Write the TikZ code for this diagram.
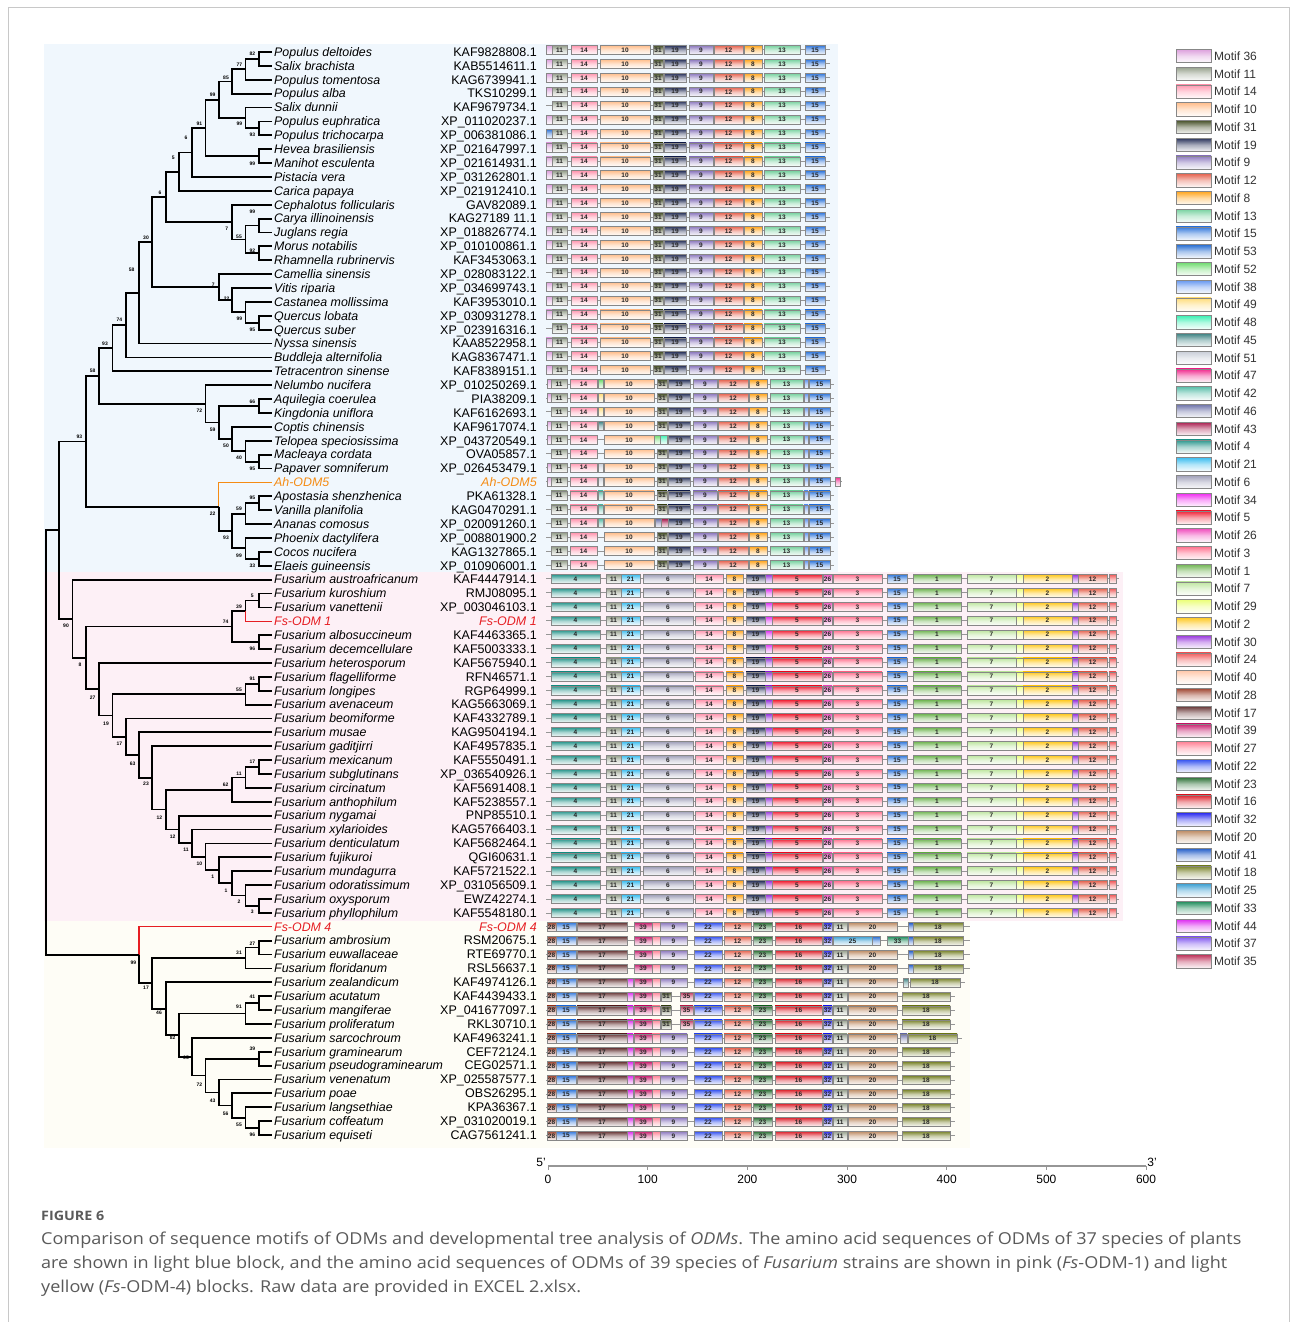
\documentclass[tikz,border=0pt]{standalone}
\usepackage{fontspec}
\setmainfont{Liberation Sans}
\newfontfamily\capfont[FakeStretch=1.1]{Open Sans}
\usetikzlibrary{calc}
\definecolor{blueblk}{RGB}{240,247,253}
\definecolor{pinkblk}{RGB}{253,240,246}
\definecolor{yelblk}{RGB}{254,253,246}
\definecolor{ahor}{RGB}{245,140,20}
\definecolor{fsred}{RGB}{230,30,35}
\definecolor{rowgray}{RGB}{150,150,150}
\definecolor{boxgray}{RGB}{135,135,135}
\definecolor{framegray}{RGB}{200,200,200}
\definecolor{capgray}{RGB}{90,90,90}
\definecolor{m36}{RGB}{221,160,221}
\definecolor{m11}{RGB}{150,160,140}
\definecolor{m14}{RGB}{255,150,175}
\definecolor{m10}{RGB}{255,190,140}
\definecolor{m31}{RGB}{70,80,40}
\definecolor{m19}{RGB}{40,50,90}
\definecolor{m9}{RGB}{140,120,190}
\definecolor{m12}{RGB}{230,100,80}
\definecolor{m8}{RGB}{255,165,30}
\definecolor{m13}{RGB}{120,210,160}
\definecolor{m15}{RGB}{50,120,220}
\definecolor{m53}{RGB}{40,110,210}
\definecolor{m52}{RGB}{110,220,110}
\definecolor{m38}{RGB}{100,150,240}
\definecolor{m49}{RGB}{255,220,120}
\definecolor{m48}{RGB}{60,240,180}
\definecolor{m45}{RGB}{60,130,130}
\definecolor{m51}{RGB}{200,205,215}
\definecolor{m47}{RGB}{240,40,140}
\definecolor{m42}{RGB}{90,190,170}
\definecolor{m46}{RGB}{110,115,170}
\definecolor{m43}{RGB}{170,30,80}
\definecolor{m4}{RGB}{40,150,140}
\definecolor{m21}{RGB}{60,190,240}
\definecolor{m6}{RGB}{160,160,185}
\definecolor{m34}{RGB}{240,40,240}
\definecolor{m5}{RGB}{240,30,50}
\definecolor{m26}{RGB}{240,80,190}
\definecolor{m3}{RGB}{255,110,140}
\definecolor{m1}{RGB}{110,180,80}
\definecolor{m7}{RGB}{190,230,160}
\definecolor{m29}{RGB}{235,255,120}
\definecolor{m2}{RGB}{255,200,30}
\definecolor{m30}{RGB}{150,50,220}
\definecolor{m24}{RGB}{240,90,90}
\definecolor{m40}{RGB}{255,200,170}
\definecolor{m28}{RGB}{160,70,50}
\definecolor{m17}{RGB}{100,50,50}
\definecolor{m39}{RGB}{200,30,110}
\definecolor{m27}{RGB}{255,130,150}
\definecolor{m22}{RGB}{50,80,240}
\definecolor{m23}{RGB}{40,110,50}
\definecolor{m16}{RGB}{220,30,40}
\definecolor{m32}{RGB}{40,40,240}
\definecolor{m20}{RGB}{190,140,100}
\definecolor{m41}{RGB}{30,90,200}
\definecolor{m18}{RGB}{120,130,40}
\definecolor{m25}{RGB}{60,160,210}
\definecolor{m33}{RGB}{30,140,90}
\definecolor{m44}{RGB}{220,40,240}
\definecolor{m37}{RGB}{130,90,240}
\definecolor{m35}{RGB}{190,50,90}
% tree node macro: name, height, child1, child2, style1, style2
\newcommand\TNc[6]{%
  \coordinate (tmpm) at ($(#3)!0.5!(#4)$);
  \coordinate (tmpx) at ({272-13.3*#2},0);
  \coordinate (#1) at (tmpx |- tmpm);
  \draw[#5] (#3) -| (#1);
  \draw[#6] (#1) |- (#4);
}
\newcommand\TN[4]{\TNc{#1}{#2}{#3}{#4}{tree}{tree}}
% motif boxes
\newcommand\mb[3]{%
  \path[mbox,top color=m#3,bottom color=m#3!5,middle color=m#3!40] (#1,\ry-4.5) rectangle (#2,\ry+4.5);
  \node[mlab] at ({(#1+#2)/2},\ry) {#3};}
\newcommand\ms[3]{%
  \path[mbox,top color=m#3,bottom color=m#3!5,middle color=m#3!40] (#1,\ry-4.5) rectangle (#2,\ry+4.5);}
\newcommand\setry[1]{\pgfmathsetmacro\ry{50+(#1-1)*13.92}}
% plant rows 1-24
\newcommand\prowA[2]{%
  \setry{#1}%
  \draw[rl] (546,\ry) -- (830,\ry);
  \ifnum#2>0 \ms{546}{552}{#2}\fi
  \mb{552}{567}{11}\mb{571}{597}{14}\mb{600}{650}{10}\mb{653}{663}{31}\mb{664}{686}{19}%
  \mb{689}{713}{9}\mb{714}{743}{12}\mb{744}{762}{8}\mb{764}{800}{13}\mb{805}{825}{15}}
% plant rows 25-38
\newcommand\prowB[5]{%
  \setry{#1}%
  \ifnum#5=1 \def\rend{842}\else\def\rend{834}\fi
  \draw[rl] (546,\ry) -- (\rend,\ry);
  \ifnum#2>0 \ms{547}{551}{#2}\fi
  \mb{551}{567}{11}\mb{570}{597}{14}%
  \ifnum#3>0 \ms{598}{603}{#3}\fi
  \mb{604}{654}{10}%
  \ifcase#4 \mb{657}{667}{31}\or \ms{654}{660}{52}\ms{660}{667}{48}\or \ms{655}{661}{46}\ms{661}{668}{43}\fi
  \mb{668}{690}{19}\mb{693}{717}{9}\mb{718}{748}{12}\mb{749}{767}{8}\mb{770}{803}{13}%
  \ms{804}{808}{38}\mb{809}{830}{15}%
  \ifnum#5=1 \ms{835}{840}{47}\fi}
% Fs-ODM1 rows
\newcommand\frowA[2]{%
  \setry{#1}%
  \draw[rl] (546,\ry) -- (1119,\ry);
  \mb{551}{600}{4}\mb{606}{621}{11}\mb{621}{640}{21}\mb{643}{693}{6}\mb{695}{723}{14}%
  \mb{726}{743}{8}\mb{746}{765}{19}\ms{765}{772}{#2}\mb{772}{822}{5}\mb{823}{832}{26}%
  \mb{833}{882}{3}\mb{887}{907}{15}\mb{913}{961}{1}\mb{967}{1016}{7}\ms{1016}{1023}{29}%
  \mb{1023}{1072}{2}\ms{1072}{1078}{30}\mb{1078}{1107}{12}\ms{1109}{1116}{24}}
% Fs-ODM4 rows
\newcommand\frowB[4]{%
  \setry{#1}%
  \ifcase#4 \def\rend{970}\or\def\rend{970}\or\def\rend{965}\or\def\rend{955}\or\def\rend{962}\fi
  \draw[rl] (546,\ry) -- (\rend,\ry);
  \mb{547}{556}{28}\mb{556}{576}{15}\mb{577}{627}{17}%
  \ifnum#2=1 \ms{627}{633}{44}\fi
  \mb{634}{652}{39}\ms{652}{660}{27}%
  \ifcase#3 \mb{660}{687}{9}\or \mb{661}{671}{31}\mb{680}{693}{35}\fi
  \mb{694}{722}{22}\mb{724}{751}{12}\mb{753}{772}{23}\mb{775}{822}{16}\mb{823}{832}{32}%
  \ifnum#4=1 \mb{833}{872}{25}\ms{872}{880}{53}\mb{887}{908}{33}\else \mb{833}{847}{11}\mb{848}{897}{20}\fi
  \ifcase#4 \ms{908}{913}{41}\mb{913}{963}{18}\or \ms{908}{913}{41}\mb{913}{963}{18}\or
    \ms{903}{908}{45}\mb{910}{960}{18}\or \mb{902}{950}{18}\or \ms{900}{907}{46}\mb{908}{957}{18}\fi}
\begin{document}
\begin{tikzpicture}[x=1pt,y=-1pt,
  tree/.style={line width=1.8pt,line join=miter},
  ahb/.style={line width=1.3pt,draw=ahor},
  fsb/.style={line width=1.3pt,draw=fsred},
  bs/.style={font=\fontsize{5}{5}\selectfont\bfseries,inner sep=0pt},
  sp/.style={font=\fontsize{12.4}{13}\selectfont\itshape,anchor=base west,inner sep=0pt},
  acc/.style={font=\fontsize{12.5}{13}\selectfont,anchor=base east,inner sep=0pt},
  rl/.style={draw=rowgray,line width=1pt},
  mbox/.style={draw=boxgray,line width=0.6pt},
  mlab/.style={font=\fontsize{6.5}{6.5}\selectfont\bfseries,inner sep=0pt,text=black!85},
  lt/.style={font=\fontsize{12}{13}\selectfont,anchor=west,inner sep=0pt,text=black!80},
  captext/.style={font=\capfont\fontsize{16.4}{18}\selectfont,anchor=base west,inner sep=0pt,text=capgray},
]
\useasboundingbox (0,0) rectangle (1293,1322);
\fill[white] (0,0) rectangle (1293,1322);
\draw[framegray,line width=1pt] (8,8) rectangle (1289,1340);
% background blocks
\fill[blueblk] (44,44) rectangle (838,572);
\fill[pinkblk] (44,572) rectangle (1123,921);
\fill[yelblk] (44,921) rectangle (970,1148);
% leaf coordinates
\foreach \i in {1,...,79} {\coordinate (L\i) at (272,{52+(\i-1)*13.885});}
% tree
\TN{A1}{1}{L1}{L2}
\TN{A2}{2}{A1}{L3}
\TN{A3}{3}{A2}{L4}
\TN{A4}{1}{L6}{L7}
\TN{A5}{2}{L5}{A4}
\TN{A6}{4}{A3}{A5}
\TN{A7}{1}{L8}{L9}
\TN{A8}{5}{A6}{A7}
\TN{A9}{6}{A8}{L10}
\TN{A10}{7}{A9}{L11}
\TN{B1}{1}{L13}{L14}
\TN{B2}{1}{L15}{L16}
\TN{B3}{2}{B1}{B2}
\TN{B4}{3}{L12}{B3}
\TN{A11}{8}{A10}{B4}
\TN{C1}{1}{L20}{L21}
\TN{C2}{2}{L19}{C1}
\TN{C3}{3}{L18}{C2}
\TN{C4}{4}{L17}{C3}
\TN{A12}{9}{A11}{C4}
\TN{A13}{10}{A12}{L22}
\TN{A14}{11}{A13}{L23}
\TN{A15}{12}{A14}{L24}
\TN{D1}{1}{L30}{L31}
\TN{D2}{2}{L29}{D1}
\TN{D3}{3}{L28}{D2}
\TN{D4}{1}{L26}{L27}
\TN{D5}{4}{D4}{D3}
\TN{D6}{5}{L25}{D5}
\TN{A16}{13}{A15}{D6}
\TN{E1}{1}{L33}{L34}
\TN{E2}{2}{E1}{L35}
\TN{E3}{1}{L37}{L38}
\TN{E4}{2}{L36}{E3}
\TN{E5}{3}{E2}{E4}
\TNc{E6}{4}{L32}{E5}{ahb}{tree}
\TN{A17}{14}{A16}{E6}
\TN{F1}{1}{L40}{L41}
\TNc{F2}{2}{F1}{L42}{tree}{fsb}
\TN{F3}{1}{L43}{L44}
\TN{F4}{3}{F2}{F3}
\TN{G1}{1}{L46}{L47}
\TN{G2}{2}{G1}{L48}
\TN{H1}{1}{L52}{L53}
\TN{H2}{2}{H1}{L54}
\TN{H3}{3}{H2}{L55}
\TN{I1}{1}{L62}{L63}
\TN{I2}{2}{L61}{I1}
\TN{I3}{3}{L60}{I2}
\TN{I4}{4}{L59}{I3}
\TN{I5}{5}{L58}{I4}
\TN{I6}{6}{L57}{I5}
\TN{I7}{7}{L56}{I6}
\TN{I8}{8}{H3}{I7}
\TN{I9}{9}{L51}{I8}
\TN{I10}{10}{L50}{I9}
\TN{I11}{11}{L49}{I10}
\TN{I12}{12}{G2}{I11}
\TN{I13}{13}{L45}{I12}
\TN{I14}{14}{F4}{I13}
\TN{I15}{15}{L39}{I14}
\TN{A18}{16}{A17}{I15}
\TN{J1}{1}{L65}{L66}
\TN{J2}{2}{J1}{L67}
\TN{K1}{1}{L69}{L70}
\TN{K2}{2}{K1}{L71}
\TN{N1}{1}{L73}{L74}
\TN{M1}{1}{L78}{L79}
\TN{M2}{2}{L77}{M1}
\TN{M3}{3}{L76}{M2}
\TN{M4}{4}{L75}{M3}
\TN{M5}{5}{N1}{M4}
\TN{M6}{6}{L72}{M5}
\TN{M7}{7}{K2}{M6}
\TN{M8}{8}{L68}{M7}
\TN{M9}{9}{J2}{M8}
\TNc{M10}{10}{L64}{M9}{fsb}{tree}
\TN{R}{17}{A18}{M10}
% bootstrap labels
\foreach \n/\x/\y/\t in {A1/252.3/53.3/82,A2/239.3/64.3/77,A3/226/77.3/85,A6/212.7/94.3/99,
  A5/239.3/124/99,A4/252.3/135/93,A8/199.3/124/91,A7/252.3/163.3/99,A9/186/137.7/6,A10/173.3/158.3/5,
  A11/160/192.3/6,B4/226.7/228.3/7,B1/252.3/211.7/99,B3/239/236.7/55,B2/252.3/251/92,A12/146/237.7/30,
  A13/131.7/269.3/58,C4/213.3/285/7,C3/226.7/299/22,C2/239.3/318.3/99,C1/252.3/329.3/95,A14/119.3/320/74,
  A15/105/343.3/93,A16/92.7/371/58,D6/199.3/411/72,D4/252.3/401.7/66,D5/212.7/429.3/59,D3/226/446/50,
  D2/239/457.3/40,D1/252.3/468.3/95,A17/79.3/436.7/93,E6/212.7/514/22,E1/252.3/497.7/95,E2/239/509/59,
  E5/226/537.7/93,E4/239/555.7/99,E3/252.3/565.7/33,F1/252.3/595.7/5,F2/239/606.7/39,F4/225.7/621.7/74,
  F3/252.3/649/96,I15/66/626/90,I14/80/664.3/8,I13/92.7/697.7/27,G1/252.3/679/91,G2/239/690/55,
  I12/106/723.3/19,I11/119.3/743.3/17,I10/132.7/763.3/63,H1/252.3/761.7/17,H2/239/773.3/11,H3/225.7/785/62,
  I9/146/784/23,I8/159.3/817.3/12,I7/172.7/836.7/12,I6/186/850/11,I5/199.3/864/10,I4/212.7/876.7/1,
  I3/226/890.7/1,I2/239/901.7/2,I1/252.3/911.7/3,J1/252.3/943.3/27,J2/239/952.8/31,M10/133.3/962.3/99,
  M9/146/987.7/17,M8/159/1012.4/46,K1/252.3/996.6/41,K2/239/1006.7/91,M7/172.7/1037.8/82,M6/186/1058.1/65,
  N1/252.3/1048.6/39,M5/199.3/1084.4/72,M4/212.7/1101.2/43,M3/225.7/1113.6/56,M2/239/1125/55,M1/252.3/1135/96}
  {\node[bs] (bs\n) at (\x,\y) {\t};}
% species and accessions
\foreach \i/\s/\a in {1/Populus deltoides/KAF9828808.1,2/Salix brachista/KAB5514611.1,3/Populus tomentosa/KAG6739941.1,
 4/Populus alba/TKS10299.1,5/Salix dunnii/KAF9679734.1,6/Populus euphratica/XP\_011020237.1,
 7/Populus trichocarpa/XP\_006381086.1,8/Hevea brasiliensis/XP\_021647997.1,9/Manihot esculenta/XP\_021614931.1,
 10/Pistacia vera/XP\_031262801.1,11/Carica papaya/XP\_021912410.1,12/Cephalotus follicularis/GAV82089.1,
 13/Carya illinoinensis/KAG27189 11.1,14/Juglans regia/XP\_018826774.1,15/Morus notabilis/XP\_010100861.1,
 16/Rhamnella rubrinervis/KAF3453063.1,17/Camellia sinensis/XP\_028083122.1,18/Vitis riparia/XP\_034699743.1,
 19/Castanea mollissima/KAF3953010.1,20/Quercus lobata/XP\_030931278.1,21/Quercus suber/XP\_023916316.1,
 22/Nyssa sinensis/KAA8522958.1,23/Buddleja alternifolia/KAG8367471.1,24/Tetracentron sinense/KAF8389151.1,
 25/Nelumbo nucifera/XP\_010250269.1,26/Aquilegia coerulea/PIA38209.1,27/Kingdonia uniflora/KAF6162693.1,
 28/Coptis chinensis/KAF9617074.1,29/Telopea speciosissima/XP\_043720549.1,30/Macleaya cordata/OVA05857.1,
 31/Papaver somniferum/XP\_026453479.1,33/Apostasia shenzhenica/PKA61328.1,34/Vanilla planifolia/KAG0470291.1,
 35/Ananas comosus/XP\_020091260.1,36/Phoenix dactylifera/XP\_008801900.2,37/Cocos nucifera/KAG1327865.1,
 38/Elaeis guineensis/XP\_010906001.1,39/Fusarium austroafricanum/KAF4447914.1,40/Fusarium kuroshium/RMJ08095.1,
 41/Fusarium vanettenii/XP\_003046103.1,43/Fusarium albosuccineum/KAF4463365.1,44/Fusarium decemcellulare/KAF5003333.1,
 45/Fusarium heterosporum/KAF5675940.1,46/Fusarium flagelliforme/RFN46571.1,47/Fusarium longipes/RGP64999.1,
 48/Fusarium avenaceum/KAG5663069.1,49/Fusarium beomiforme/KAF4332789.1,50/Fusarium musae/KAG9504194.1,
 51/Fusarium gaditjirri/KAF4957835.1,52/Fusarium mexicanum/KAF5550491.1,53/Fusarium subglutinans/XP\_036540926.1,
 54/Fusarium circinatum/KAF5691408.1,55/Fusarium anthophilum/KAF5238557.1,56/Fusarium nygamai/PNP85510.1,
 57/Fusarium xylarioides/KAG5766403.1,58/Fusarium denticulatum/KAF5682464.1,59/Fusarium fujikuroi/QGI60631.1,
 60/Fusarium mundagurra/KAF5721522.1,61/Fusarium odoratissimum/XP\_031056509.1,62/Fusarium oxysporum/EWZ42274.1,
 63/Fusarium phyllophilum/KAF5548180.1,65/Fusarium ambrosium/RSM20675.1,66/Fusarium euwallaceae/RTE69770.1,
 67/Fusarium floridanum/RSL56637.1,68/Fusarium zealandicum/KAF4974126.1,69/Fusarium acutatum/KAF4439433.1,
 70/Fusarium mangiferae/XP\_041677097.1,71/Fusarium proliferatum/RKL30710.1,72/Fusarium sarcochroum/KAF4963241.1,
 73/Fusarium graminearum/CEF72124.1,74/Fusarium pseudograminearum/CEG02571.1,75/Fusarium venenatum/XP\_025587577.1,
 76/Fusarium poae/OBS26295.1,77/Fusarium langsethiae/KPA36367.1,78/Fusarium coffeatum/XP\_031020019.1,
 79/Fusarium equiseti/CAG7561241.1}
 {\pgfmathsetmacro\ty{52+(\i-1)*13.885+4.3}
  \node[sp] (sp\i) at (274,\ty) {\s};
  \node[acc] (ac\i) at (537,\ty) {\a};}
\pgfmathsetmacro\ty{52+31*13.885+4.3}
\node[sp,text=ahor] (sp32) at (274,\ty) {Ah-ODM5};
\node[acc,text=ahor,font=\fontsize{12.5}{13}\selectfont\itshape] (ac32) at (537,\ty) {Ah-ODM5};
\pgfmathsetmacro\ty{52+41*13.885+4.3}
\node[sp,text=fsred] (sp42) at (274,\ty) {Fs-ODM 1};
\node[acc,text=fsred,font=\fontsize{12.5}{13}\selectfont\itshape] (ac42) at (537,\ty) {Fs-ODM 1};
\pgfmathsetmacro\ty{52+63*13.885+4.3}
\node[sp,text=fsred] (sp64) at (274,\ty) {Fs-ODM 4};
\node[acc,text=fsred,font=\fontsize{12.5}{13}\selectfont\itshape] (ac64) at (537,\ty) {Fs-ODM 4};
% motif rows
\foreach \i/\f in {1/36,2/36,3/36,4/36,5/0,6/36,7/53,8/36,9/36,10/36,11/36,12/36,13/36,14/36,15/36,16/36,
  17/0,18/36,19/36,20/36,21/0,22/36,23/36,24/36} {\prowA{\i}{\f}}
\foreach \i/\f/\e/\v/\t in {25/36/52/0/0,26/36/49/0/0,27/0/49/0/0,28/36/45/0/0,29/36/0/1/0,30/0/0/0/0,
  31/36/51/0/0,32/36/51/0/1,33/0/42/0/0,34/0/42/0/0,35/0/42/2/0,36/0/0/0/0,37/0/0/0/0,38/0/0/0/0}
  {\prowB{\i}{\f}{\e}{\v}{\t}}
\foreach \i/\x in {39/30,40/44,41/44,42/44,43/44,44/44,45/30,46/30,47/30,48/30,49/30,50/30,51/30,52/30,
  53/30,54/30,55/30,56/30,57/30,58/30,59/30,60/30,61/30,62/30,63/30} {\frowA{\i}{\x}}
\foreach \i/\a/\b/\c in {64/0/0/0,65/0/0/1,66/0/0/0,67/0/0/0,68/1/0/2,69/1/1/3,70/1/1/3,71/1/1/3,72/1/0/4,
  73/1/0/3,74/1/0/3,75/1/0/3,76/1/0/3,77/1/0/3,78/1/0/3,79/1/0/3} {\frowB{\i}{\a}{\b}{\c}}
% axis
\draw[rowgray,line width=1.5pt] (548,1166) coordinate (ax0) -- (1146,1166) coordinate (ax1);
\foreach \v in {0,100,...,600} {
  \draw[rowgray,line width=1pt] ({548+0.99667*\v},1166) -- ++(0,4);
  \node[font=\fontsize{12}{13}\selectfont,inner sep=0pt] (tk\v) at ({548+0.99667*\v},1179) {\v};}
\node[font=\fontsize{12}{13}\selectfont,inner sep=0pt] (five) at (541,1162) {5'};
\node[font=\fontsize{12}{13}\selectfont,inner sep=0pt] (three) at (1152,1162) {3'};
% legend
\foreach \m [count=\k] in {36,11,14,10,31,19,9,12,8,13,15,53,52,38,49,48,45,51,47,42,46,43,4,21,6,34,5,26,3,1,
  7,29,2,30,24,40,28,17,39,27,22,23,16,32,20,41,18,25,33,44,37,35} {
  \pgfmathsetmacro\ly{56+(\k-1)*17.75}
  \path[mbox,draw=boxgray,top color=m\m,bottom color=m\m!5,middle color=m\m!40] (1176,\ly-6.7) rectangle (1211,\ly+6.7);
  \node[lt] (leg\m) at (1214,\ly) {Motif \m};}
% caption
\node[font=\capfont\bfseries\fontsize{13}{14}\selectfont,anchor=base west,inner sep=0pt,text=capgray] (fig) at (41,1220) {FIGURE 6};
\node[captext] (c1) at (41,1244) {Comparison of sequence motifs of ODMs and developmental tree analysis of \textit{ODMs}. The amino acid sequences of ODMs of 37 species of plants};
\node[captext] (c2) at (41,1268) {are shown in light blue block, and the amino acid sequences of ODMs of 39 species of \textit{Fusarium} strains are shown in pink (\textit{Fs}-ODM-1) and light};
\node[captext] (c3) at (41,1292) {yellow (\textit{Fs}-ODM-4) blocks. Raw data are provided in EXCEL 2.xlsx.};
\end{tikzpicture}
\end{document}
